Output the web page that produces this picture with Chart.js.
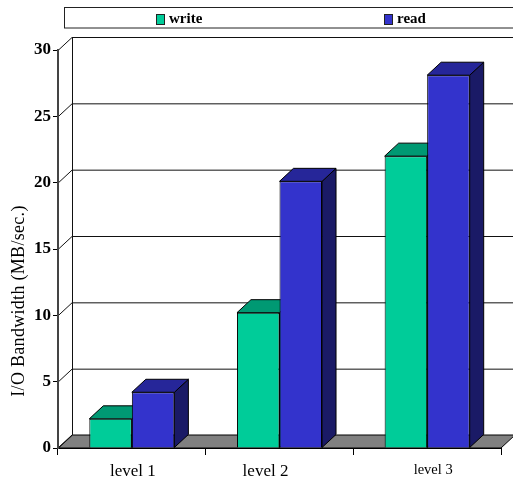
<!DOCTYPE html>
<html>
<head>
<meta charset="utf-8">
<style>
html, body { margin: 0; padding: 0; background: #fff; overflow: hidden; }
#wrap { width: 513px; height: 478px; }
</style>
<script src="https://cdn.jsdelivr.net/npm/chart.js@4/dist/chart.umd.min.js"></script>
</head>
<body>
<div id="wrap"><canvas id="myChart" width="513" height="478"></canvas></div>
<script>
const categories = ['level 1', 'level 2', 'level 3'];
const writeValues = [2.2, 10.2, 22];
const readValues = [4.2, 20.1, 28.1];
const yTicks = [0, 5, 10, 15, 20, 25, 30];

const SERIF = '"Liberation Serif", "Times New Roman", serif';
const DX = 14, DY = 13;
const labelShift = [1, -14, 6];
const labelSize = [17, 17, 14.5];

function poly(c, pts, fill) {
	c.beginPath();
	pts.forEach((p, i) => i ? c.lineTo(p[0], p[1]) : c.moveTo(p[0], p[1]));
	c.closePath();
	c.fillStyle = fill;
	c.fill();
	c.lineWidth = 1;
	c.strokeStyle = '#000';
	c.stroke();
}

const fake3d = {
	id: 'fake3d',
	beforeDraw(chart) {
		const c = chart.ctx, a = chart.chartArea, y = chart.scales.y;
		c.save();
		// floor
		c.beginPath();
		c.moveTo(a.left, a.bottom);
		c.lineTo(a.left + DX, a.bottom - DY);
		c.lineTo(a.right + DX, a.bottom - DY);
		c.lineTo(a.right, a.bottom);
		c.closePath();
		c.fillStyle = '#808080';
		c.fill();
		c.strokeStyle = '#000';
		c.lineWidth = 1;
		c.stroke();
		// back wall
		yTicks.forEach(v => {
			const py = y.getPixelForValue(v) + 0.5;
			c.beginPath();
			c.moveTo(a.left, py);
			c.lineTo(a.left + DX, py - DY);
			if (v > 0) c.lineTo(a.right + DX, py - DY);
			c.strokeStyle = '#111';
			c.stroke();
		});
		c.beginPath();
		c.moveTo(a.left + DX + 0.5, y.getPixelForValue(30) - DY);
		c.lineTo(a.left + DX + 0.5, a.bottom - DY);
		c.stroke();
		// legend box
		c.strokeStyle = '#222';
		c.strokeRect(64.5, 7.5, 470, 20.5);
		c.fillStyle = '#000';
		c.font = 'bold 15px ' + SERIF;
		c.textBaseline = 'middle';
		[[156, 0], [384, 1]].forEach(([lx, i]) => {
			const ds = chart.data.datasets[i];
			c.fillStyle = ds.backgroundColor;
			c.fillRect(lx + 0.5, 14.5, 8, 10);
			c.strokeRect(lx + 0.5, 14.5, 8, 10);
			c.fillStyle = '#000';
			c.fillText(ds.label, lx + 13, 19);
		});
		// y axis title
		c.translate(19, 301);
		c.rotate(-Math.PI / 2);
		c.font = '18px ' + SERIF;
		c.letterSpacing = '0.3px';
		c.textAlign = 'center';
		c.fillText('I/O Bandwidth (MB/sec.)', 0, 0);
		c.restore();
		// per-label nudge, the source picture has them off-centre
		chart.scales.x.getLabelItems().forEach((it, i) => {
			if (!it.shifted) {
				it.options.translation[0] += labelShift[i];
				it.shifted = true;
			}
		});
	},
	beforeDatasetsDraw(chart) {
		const c = chart.ctx;
		chart.data.datasets.forEach((ds, i) => {
			chart.getDatasetMeta(i).data.forEach(bar => {
				const l = bar.x - bar.width / 2, r = bar.x + bar.width / 2;
				poly(c, [[r, bar.y], [r + DX, bar.y - DY], [r + DX, bar.base - DY], [r, bar.base]], ds.sideColor);
				poly(c, [[l, bar.y], [l + DX, bar.y - DY], [r + DX, bar.y - DY], [r, bar.y]], ds.topColor);
			});
		});
	}
};

new Chart(document.getElementById('myChart').getContext('2d'), {
	type: 'bar',
	data: {
		labels: categories,
		datasets: [
			{ label: 'write', data: writeValues, backgroundColor: '#00CC99', topColor: '#009973', sideColor: '#006B50', borderColor: '#000', borderWidth: 1 },
			{ label: 'read', data: readValues, backgroundColor: '#3333CC', topColor: '#262699', sideColor: '#1A1A66', borderColor: '#000', borderWidth: 1 }
		]
	},
	options: {
		responsive: false,
		animation: false,
		layout: { padding: { top: 50, right: 12, left: 0, bottom: 0 } },
		plugins: { legend: { display: false }, tooltip: { enabled: false } },
		datasets: { bar: { categoryPercentage: 0.576, barPercentage: 1 } },
		scales: {
			x: {
				z: 1,
				afterFit(s) { s.height = 30; },
				grid: { drawOnChartArea: false, tickLength: 7, color: '#000' },
				border: { color: '#000' },
				ticks: {
					color: '#000',
					padding: 6,
					maxRotation: 0,
					font: ctx => ({ family: SERIF, size: labelSize[ctx.index] })
				}
			},
			y: {
				z: 1,
				min: 0,
				max: 30,
				afterFit(s) { s.width = 58; },
				afterBuildTicks(s) { s.ticks = yTicks.map(v => ({ value: v })); },
				grid: { drawOnChartArea: false, tickLength: 5, color: '#000' },
				border: { color: '#444', width: 2 },
				ticks: {
					color: '#000',
					padding: 2,
					font: { family: SERIF, size: 17, weight: 'bold' }
				}
			}
		}
	},
	plugins: [fake3d]
});
</script>
</body>
</html>
